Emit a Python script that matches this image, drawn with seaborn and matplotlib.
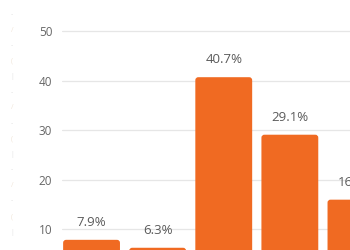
import matplotlib
matplotlib.use("Agg")
import matplotlib.pyplot as plt
import seaborn as sns
import pandas as pd
from matplotlib.patches import FancyBboxPatch

# 막대 데이터 (오른쪽 끝 막대는 잘려 있음)
categories = ['A', 'B', 'C', 'D', 'E']
values = [7.9, 6.3, 40.7, 29.1, 16.0]
labels = ['7.9%', '6.3%', '40.7%', '29.1%', '16.0%']
yticks = [10, 20, 30, 40, 50]

df = pd.DataFrame({'cat': categories, 'val': values})

sns.set_theme(style='white')
plt.rcParams['font.family'] = ['Open Sans', 'DejaVu Sans']

fig = plt.figure(figsize=(3.5, 2.5), dpi=100)
ax = fig.add_axes([62 / 350, -29 / 250, 327 / 350, 297.5 / 250])

bar_color = '#F06A22'
sns.barplot(data=df, x='cat', y='val', color=bar_color, width=0.86,
            saturation=1, ax=ax, zorder=3)

# 모서리 둥글게
for p in list(ax.patches):
    x, y = p.get_x(), p.get_y()
    w, h = p.get_width(), p.get_height()
    p.remove()
    fb = FancyBboxPatch((x, y), w, h,
                        boxstyle='round,pad=0,rounding_size=0.045',
                        mutation_aspect=13.3, fc=bar_color, ec='none',
                        zorder=3)
    ax.add_patch(fb)

for i, (v, lab) in enumerate(zip(values, labels)):
    ax.text(i, v + 3.5, lab, ha='center', va='center', fontsize=9.5,
            color='#5a5a5a', zorder=4)

ax.set_xlim(-0.447, 4.5)
ax.set_ylim(0, 60)
ax.set_yticks(yticks)
ax.set_yticklabels([str(t) for t in yticks])
ax.tick_params(axis='y', length=0, pad=7, labelsize=8.5, labelcolor='#666666')
ax.set_xticks([])
ax.set_xlabel('')
ax.set_ylabel('')
ax.yaxis.grid(True, color='#e6e6e6', linewidth=0.9, zorder=0)
for s in ax.spines.values():
    s.set_visible(False)

# 왼쪽의 흐릿한 장식 기호
marks = ['-', '/', '-', '(', '|']
for k in range(15):
    fig.text(12 / 350, 1 - (15 + 15.5 * k) / 250, marks[k % 5],
             ha='center', va='center', fontsize=5,
             color='#f1e6da' if marks[k % 5] in '(/' else '#e2e2e2')

fig.savefig('out.png', dpi=100)
